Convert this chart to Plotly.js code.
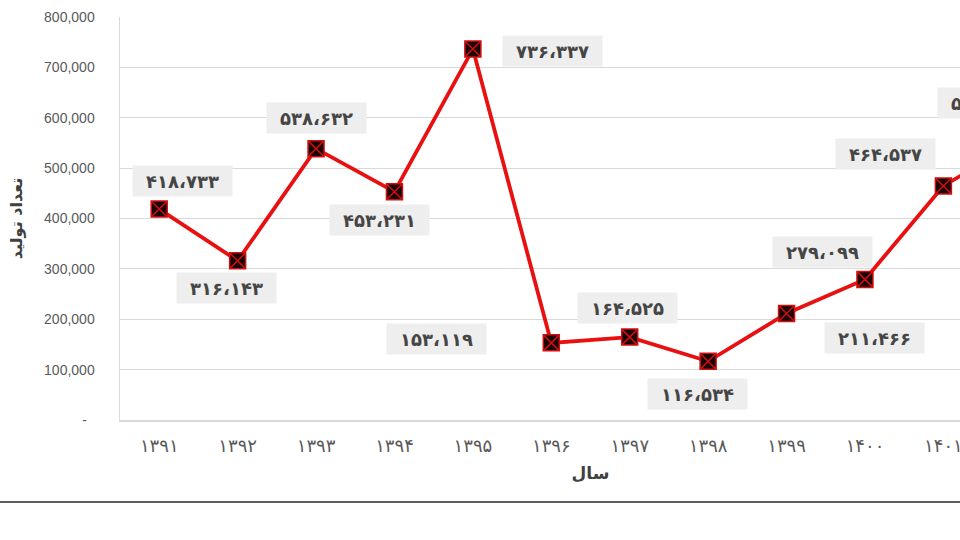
<!DOCTYPE html>
<html>
<head>
<meta charset="utf-8">
<script src="https://cdn.plot.ly/plotly-3.0.1.min.js"></script>
<style>
  html, body { margin: 0; padding: 0; overflow: hidden; background: #fff; width: 960px; height: 540px; }
  #chart { width: 1080px; height: 501px; border-bottom: 2px solid #5e5e5e; }
</style>
</head>
<body>
<div id="chart"></div>
<script>
// Years (Persian calendar) and values
const years = ['۱۳۹۱','۱۳۹۲','۱۳۹۳','۱۳۹۴','۱۳۹۵','۱۳۹۶','۱۳۹۷','۱۳۹۸','۱۳۹۹','۱۴۰۰','۱۴۰۱','۱۴۰۲'];
const values = [418733, 316143, 538632, 453231, 736337, 153119, 164525, 116534, 211466, 279099, 464537, 557000];
const yTickVals = [0, 100000, 200000, 300000, 400000, 500000, 600000, 700000, 800000];
const yTickText = ['-\u00a0\u00a0', '100,000', '200,000', '300,000', '400,000', '500,000', '600,000', '700,000', '800,000'];
const xTitle = 'سال';
const yTitle = 'تعداد تولید';

// Label offsets (pixels) — styling only
const labelShiftX = [23, -11, 0, -15, 80, -115, -2, -11, 88, -42, -58, -34];
const labelShiftY = [28, -27, 31, -28, -2, 4, 29, -33, -25, 27, 32, 36];

const faDigits = '۰۱۲۳۴۵۶۷۸۹';
function toFa(n) {
  const s = String(n).replace(/\B(?=(\d{3})+(?!\d))/g, '،');
  return s.replace(/\d/g, d => faDigits[+d]);
}

const trace = {
  type: 'scatter',
  mode: 'lines+markers',
  x: years,
  y: values,
  line: { color: '#e81010', width: 3.8 },
  marker: { symbol: 'square-x', size: 16, color: '#1c0303', line: { color: '#d01010', width: 1.5 } },
  cliponaxis: true,
  hoverinfo: 'skip'
};

const annotations = values.map((v, i) => ({
  x: years[i], y: v, xref: 'x', yref: 'y',
  text: toFa(v),
  showarrow: false,
  xshift: labelShiftX[i], yshift: labelShiftY[i],
  bgcolor: '#eeeeee',
  width: 97, height: 28, borderpad: 1,
  font: { family: 'DejaVu Sans', size: 18, color: '#454545', weight: 'bold' }
}));

const layout = {
  width: 1080, height: 501,
  margin: { l: 120, r: 19, t: 17, b: 81 },
  paper_bgcolor: '#ffffff',
  plot_bgcolor: '#ffffff',
  showlegend: false,
  xaxis: {
    type: 'category',
    range: [-0.5, 11.5],
    showgrid: false,
    showline: true, linecolor: '#d9d9d9', linewidth: 1.5,
    ticks: '',
    ticklabelstandoff: 9,
    tickfont: { family: 'DejaVu Sans', size: 18, color: '#595959' },
    title: { text: xTitle, standoff: 12, font: { family: 'DejaVu Sans', size: 17, color: '#404040', weight: 'bold' } },
    fixedrange: true
  },
  yaxis: {
    range: [0, 800000],
    tickvals: yTickVals,
    ticktext: yTickText,
    showgrid: true, gridcolor: '#d9d9d9', gridwidth: 1.2,
    showline: true, linecolor: '#d9d9d9', linewidth: 1.5,
    zeroline: false,
    ticks: '',
    ticklabelstandoff: 21,
    tickfont: { family: 'Liberation Sans', size: 14, color: '#595959' },
    title: { text: yTitle, standoff: 17, font: { family: 'DejaVu Sans', size: 16, color: '#404040', weight: 'bold' } },
    fixedrange: true
  },
  annotations: annotations
};

Plotly.newPlot('chart', [trace], layout, { displayModeBar: false, staticPlot: true });
</script>
</body>
</html>
